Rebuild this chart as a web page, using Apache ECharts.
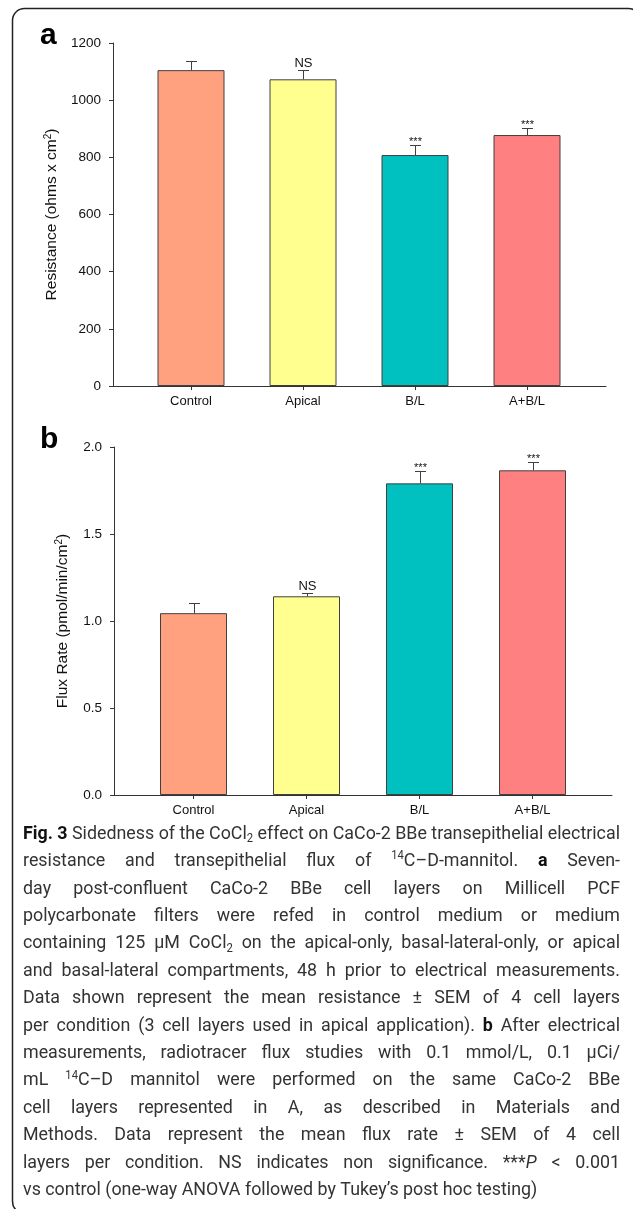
<!DOCTYPE html>
<html><head><meta charset="utf-8">
<script src="https://cdn.jsdelivr.net/npm/echarts@6/dist/echarts.min.js"></script>
<style>html,body{margin:0;padding:0;background:#fff}#c{width:633px;height:1209px}</style>
</head><body><div id="c"></div>
<script>
// ---------------- data ----------------
const categories = ['Control', 'Apical', 'B/L', 'A+B/L'];
const resistanceMean = [1105, 1073, 808, 878];
const resistanceSem = [33, 31, 34, 26];
const fluxMean = [1.045, 1.142, 1.791, 1.866];
const fluxSem = [0.060, 0.020, 0.070, 0.045];
const sigLabels = ['', 'NS', '***', '***'];
const resistanceAxis = { min: 0, max: 1200, interval: 200 };
const fluxAxis = { min: 0, max: 2.0, interval: 0.5 };
const captionLines = [
  [['b', 'Fig. 3'], ['n', ' Sidedness of the CoCl'], ['sub', '2'], ['n', ' effect on CaCo-2 BBe transepithelial electrical']],
  [['n', 'resistance and transepithelial flux of '], ['sup', '14'], ['n', 'C\u2013D-mannitol. '], ['b', 'a'], ['n', ' Seven-']],
  [['n', 'day post-confluent CaCo-2 BBe cell layers on Millicell PCF']],
  [['n', 'polycarbonate filters were refed in control medium or medium']],
  [['n', 'containing 125 \u03bcM CoCl'], ['sub', '2'], ['n', ' on the apical-only, basal-lateral-only, or apical']],
  [['n', 'and basal-lateral compartments, 48 h prior to electrical measurements.']],
  [['n', 'Data shown represent the mean resistance \u00b1 SEM of 4 cell layers']],
  [['n', 'per condition (3 cell layers used in apical application). '], ['b', 'b'], ['n', ' After electrical']],
  [['n', 'measurements, radiotracer flux studies with 0.1 mmol/L, 0.1 \u03bcCi/']],
  [['n', 'mL '], ['sup', '14'], ['n', 'C\u2013D mannitol were performed on the same CaCo-2 BBe']],
  [['n', 'cell layers represented in A, as described in Materials and']],
  [['n', 'Methods. Data represent the mean flux rate \u00b1 SEM of 4 cell']],
  [['n', 'layers per condition. NS indicates non significance. ***'], ['i', 'P'], ['n', ' < 0.001']],
  [['n', 'vs control (one-way ANOVA followed by Tukey\u2019s post hoc testing)']]
];

// ---------------- styles ----------------
const barColors = ['#FFA07F', '#FFFF90', '#00C0C0', '#FF8080'];
const AX = '#333';
const FONT = '"Liberation Sans", Arial, sans-serif';
const CAP_FAMILY = 'Roboto, "Open Sans", sans-serif';

function errRender(params, api) {
  const x = api.value(0), m = api.value(1), e = api.value(2);
  const base = api.coord([x, m]);
  const top = api.coord([x, m + e]);
  const cap = 5.5;
  const xs = Math.round(top[0]) + 0.5, yt = Math.round(top[1]) + 0.5;
  const children = [
    { type: 'line', shape: { x1: xs, y1: base[1], x2: xs, y2: yt }, style: { stroke: '#404040', lineWidth: 1 } },
    { type: 'line', shape: { x1: xs - cap, y1: yt, x2: xs + cap, y2: yt }, style: { stroke: '#404040', lineWidth: 1 } }
  ];
  const label = sigLabels[params.dataIndex];
  if (label) {
    const star = label.indexOf('*') >= 0;
    children.push({ type: 'text', x: xs, y: yt + (star ? 2 : -1),
      style: { text: label, font: (star ? '11px ' : '13px ') + FONT, fill: '#111', align: 'center', verticalAlign: 'bottom' } });
  }
  return { type: 'group', children };
}

function barSeries(xi, yi, means) {
  return {
    type: 'bar', xAxisIndex: xi, yAxisIndex: yi,
    data: means.map((v, i) => ({ value: v, itemStyle: { color: barColors[i] } })),
    barWidth: 67,
    itemStyle: { borderColor: '#404040', borderWidth: 1 },
    silent: true, animation: false
  };
}
function errSeries(xi, yi, means, sems) {
  return {
    type: 'custom', xAxisIndex: xi, yAxisIndex: yi,
    data: means.map((v, i) => [i, v, sems[i]]),
    encode: { x: 0, y: 1 }, renderItem: errRender, z: 5, silent: true, animation: false
  };
}
function frameX(gi) {
  return { gridIndex: gi, type: 'value', min: 0, max: 1,
    axisLine: { show: true, onZero: false, lineStyle: { color: AX, width: 1 } },
    axisTick: { show: false }, axisLabel: { show: false }, splitLine: { show: false } };
}
function catX(gi) {
  return { gridIndex: gi, type: 'category', data: categories,
    axisLine: { show: false }, axisTick: { show: true, alignWithLabel: true, length: 4, lineStyle: { color: AX } },
    axisLabel: { margin: 9, fontSize: 13, color: '#111', fontFamily: FONT } };
}
function valY(gi, ax, name, gap, fmt) {
  return { gridIndex: gi, type: 'value', min: ax.min, max: ax.max, interval: ax.interval,
    axisLine: { show: true, lineStyle: { color: AX, width: 1 } },
    axisTick: { show: true, length: 4, lineStyle: { color: AX } },
    axisLabel: { margin: 12, fontSize: 13.5, color: '#111', fontFamily: FONT, formatter: fmt },
    splitLine: { show: false },
    name: name, nameLocation: 'middle', nameGap: gap, nameRotate: 90,
    nameTextStyle: { rich: {
      n: { fontSize: 15.5, fontFamily: FONT, color: '#111', lineHeight: 18, verticalAlign: 'middle' },
      s: { fontSize: 10, fontFamily: FONT, color: '#111', lineHeight: 18, verticalAlign: 'top' }
    } } };
}
function hidY(gi, ax) {
  return { gridIndex: gi, type: 'value', min: ax.min, max: ax.max, interval: ax.interval, show: false, splitLine: { show: false } };
}

// ---------------- caption (justified, horizontally condensed rich text) ----------------
const capLeft = 23, capRight = 620, capY0 = 834, capStep = 27.4, capSize = 19;
const mctx = document.createElement('canvas').getContext('2d');
const small = Math.round(capSize * 0.64);
const cf = {
  n: capSize + 'px ' + CAP_FAMILY, b: 'bold ' + capSize + 'px ' + CAP_FAMILY, i: 'italic ' + capSize + 'px ' + CAP_FAMILY,
  sub: small + 'px ' + CAP_FAMILY, sup: small + 'px ' + CAP_FAMILY
};
function measure(font, t) { mctx.font = font; return mctx.measureText(t).width; }
function tokens(line) {
  const out = [];
  line.forEach(([st, txt]) => {
    txt.split(/( )/).forEach(p => { if (p === '') return; out.push(p === ' ' ? ['sp', ' '] : [st, p]); });
  });
  return out;
}
function naturalWidth(line) {
  return tokens(line).reduce((s, [st, t]) => s + measure(st === 'sp' ? cf.n : cf[st], t), 0);
}
const maxNat = Math.max.apply(null, captionLines.map(naturalWidth));
const capScale = Math.min(1, (capRight - capLeft) / maxNat);
const capColor = '#333';
const captionGraphics = captionLines.map((line, li) => {
  const toks = tokens(line);
  let wordsW = 0, nsp = 0;
  toks.forEach(([st, t]) => { if (st === 'sp') nsp++; else wordsW += measure(cf[st], t); });
  let spW = measure(cf.n, ' ');
  if (li < captionLines.length - 1 && nsp > 0) spW = ((capRight - capLeft) / capScale - wordsW) / nsp;
  const text = toks.map(([st, t]) => '{' + st + '|' + t + '}').join('');
  const LH = 24;
  return {
    type: 'text', x: capLeft, y: capY0 + li * capStep - LH / 2, scaleX: capScale, z: 10,
    style: {
      text: text, fill: capColor, align: 'left', verticalAlign: 'top',
      rich: {
        n: { font: cf.n, fill: capColor, lineHeight: LH, verticalAlign: 'middle' },
        b: { font: cf.b, fill: '#111', lineHeight: LH, verticalAlign: 'middle' },
        i: { font: cf.i, fill: capColor, lineHeight: LH, verticalAlign: 'middle' },
        sub: { font: cf.sub, fill: capColor, lineHeight: LH, verticalAlign: 'bottom', padding: [0, 0, 1, 0] },
        sup: { font: cf.sup, fill: capColor, lineHeight: LH, verticalAlign: 'top', padding: [1, 0, 0, 0] },
        sp: { font: cf.n, fill: capColor, lineHeight: LH, verticalAlign: 'middle', width: spW }
      }
    }
  };
});

const chart = echarts.init(document.getElementById('c'), null, { renderer: 'canvas' });
chart.setOption({
  animation: false,
  backgroundColor: '#fff',
  grid: [
    { left: 113, top: 43, width: 493, height: 343, outerBoundsMode: 'none' },
    { left: 135, top: 43, width: 448, height: 343, outerBoundsMode: 'none' },
    { left: 114, top: 447, width: 498, height: 348, outerBoundsMode: 'none' },
    { left: 137, top: 447, width: 452, height: 348, outerBoundsMode: 'none' }
  ],
  xAxis: [frameX(0), catX(1), frameX(2), catX(3)],
  yAxis: [
    valY(0, resistanceAxis, '{n|Resistance (ohms x cm}{s|2}{n|)}', 51, v => String(v)),
    hidY(1, resistanceAxis),
    valY(2, fluxAxis, '{n|Flux Rate (pmol/min/cm}{s|2}{n|)}', 42, v => v.toFixed(1)),
    hidY(3, fluxAxis)
  ],
  series: [
    barSeries(1, 1, resistanceMean),
    errSeries(1, 1, resistanceMean, resistanceSem),
    barSeries(3, 3, fluxMean),
    errSeries(3, 3, fluxMean, fluxSem)
  ],
  graphic: [
    { type: 'rect', z: 0, shape: { x: 12.5, y: 8.5, width: 628, height: 1205, r: 12 },
      style: { fill: 'none', stroke: '#222', lineWidth: 1.5 } },
    { type: 'text', left: 40, top: 21, style: { text: 'a', font: 'bold 30px ' + FONT, fill: '#000' } },
    { type: 'text', left: 40, top: 425, style: { text: 'b', font: 'bold 30px ' + FONT, fill: '#000' } }
  ].concat(captionGraphics)
});
</script>
</body></html>
